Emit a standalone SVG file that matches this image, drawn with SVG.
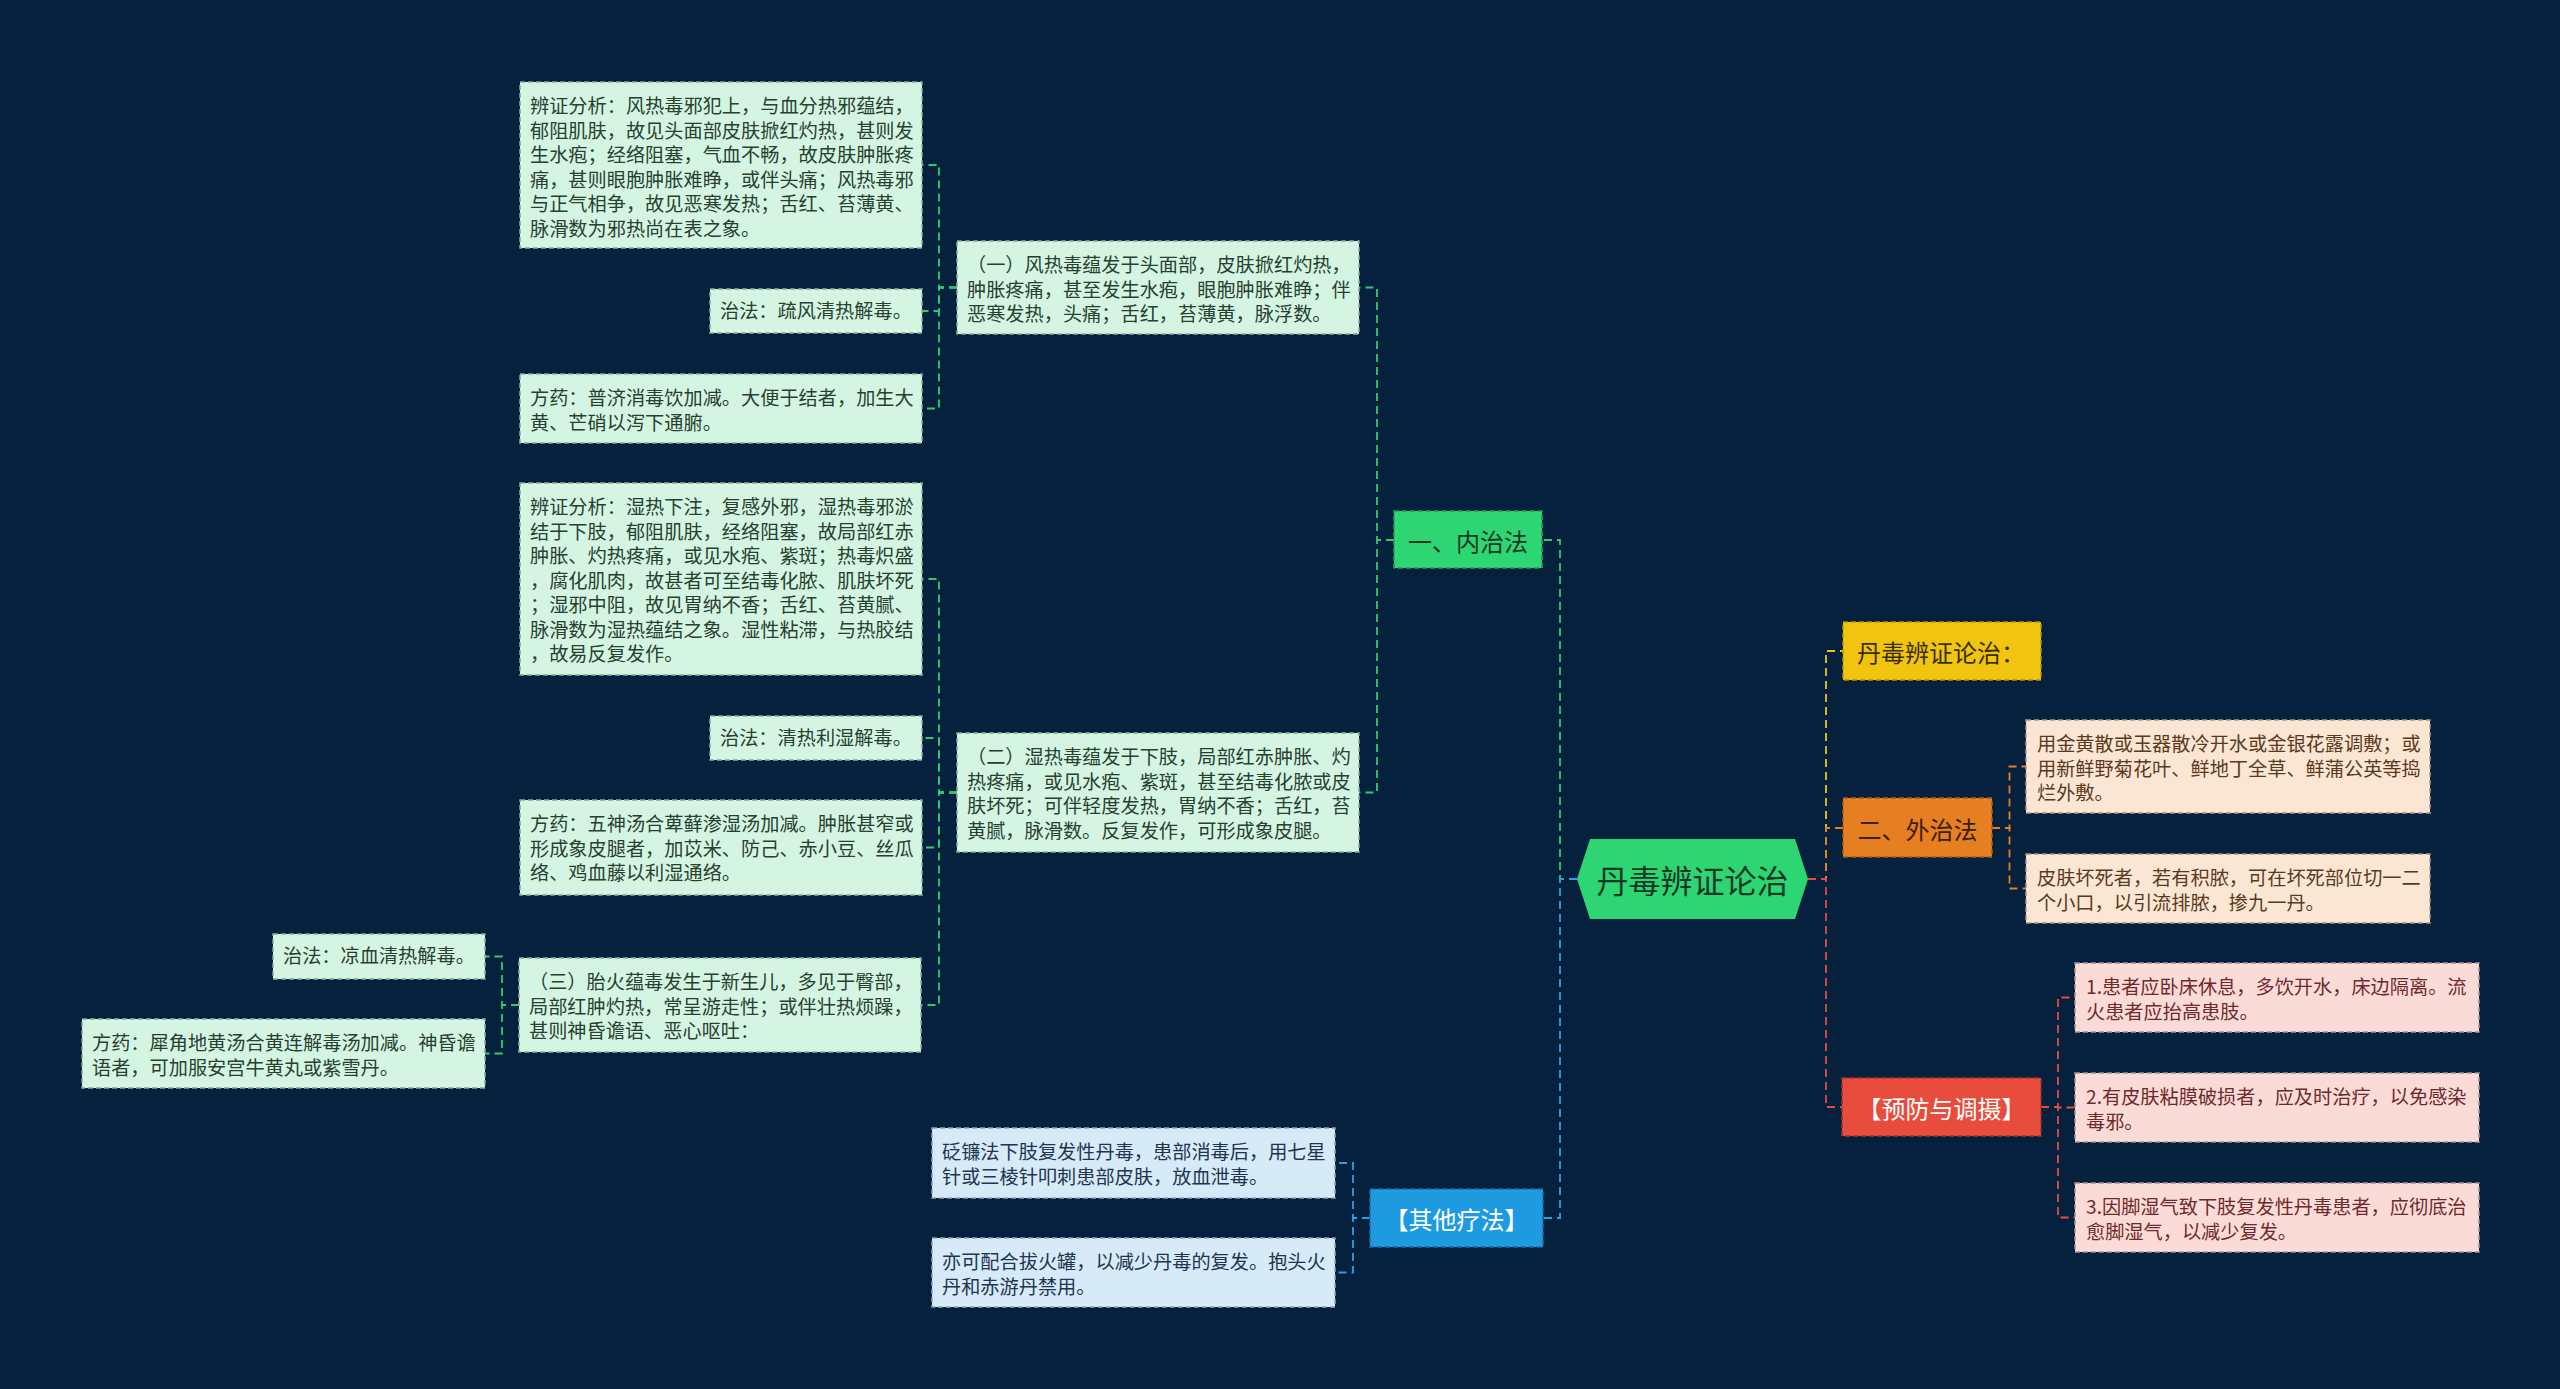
<svg xmlns="http://www.w3.org/2000/svg" width="2560" height="1389" viewBox="0 0 2560 1389">
<style>
text{font-family:"Noto Sans CJK SC","Noto Sans",sans-serif;dominant-baseline:central}
.leaf{font-size:19.2px}
.br{font-size:24px}
.c{fill:none;stroke-width:1.8;stroke-dasharray:8 5}
.lg{fill:#d5f5e3;stroke:#8fa89a;stroke-width:1.5;stroke-dasharray:5 3}
.lo{fill:#fbe5d3;stroke:#a8978a;stroke-width:1.5;stroke-dasharray:5 3}
.lr{fill:#fadbd8;stroke:#a89290;stroke-width:1.5;stroke-dasharray:5 3}
.lb{fill:#d6eaf8;stroke:#8ea2b2;stroke-width:1.5;stroke-dasharray:5 3}
.tg{fill:#27402f}.to{fill:#5a3a1e}.tr{fill:#6e2a2a}.tb{fill:#1f3550}
</style>
<rect x="0" y="0" width="2560" height="1389" fill="#06213d"/>

<g id="connectors">
  <path class="c" stroke="#2ecc71" d="M1577,879 H1560 V540 H1542"/>
  <path class="c" stroke="#2e9fe0" d="M1577,879 H1560 V1218 H1543"/>
  <path class="c" stroke="#f1c40f" d="M1808,879 H1826 V651 H1843"/>
  <path class="c" stroke="#e67e22" d="M1808,879 H1826 V828 H1843"/>
  <path class="c" stroke="#e74c3c" d="M1808,879 H1826 V1107 H1842"/>
  <path class="c" stroke="#2ecc71" d="M1394,540 H1377 V287.5 H1359"/>
  <path class="c" stroke="#2ecc71" d="M1394,540 H1377 V792.5 H1359"/>
  <path class="c" stroke="#2ecc71" d="M957,287.5 H939 V165 H922"/>
  <path class="c" stroke="#2ecc71" d="M957,287.5 H939 V311 H922"/>
  <path class="c" stroke="#2ecc71" d="M957,287.5 H939 V408.5 H922"/>
  <path class="c" stroke="#2ecc71" d="M957,792.5 H939 V579 H922"/>
  <path class="c" stroke="#2ecc71" d="M957,792.5 H939 V738 H922"/>
  <path class="c" stroke="#2ecc71" d="M957,792.5 H939 V847.5 H922"/>
  <path class="c" stroke="#2ecc71" d="M957,792.5 H939 V1005 H921"/>
  <path class="c" stroke="#2ecc71" d="M519,1005 H502 V956.5 H485"/>
  <path class="c" stroke="#2ecc71" d="M519,1005 H502 V1053.5 H485"/>
  <path class="c" stroke="#2e9fe0" d="M1370,1218 H1353 V1163 H1335"/>
  <path class="c" stroke="#2e9fe0" d="M1370,1218 H1353 V1272.5 H1335"/>
  <path class="c" stroke="#e67e22" d="M1992,828 H2009.5 V766.5 H2026"/>
  <path class="c" stroke="#e67e22" d="M1992,828 H2009.5 V888.5 H2026"/>
  <path class="c" stroke="#e74c3c" d="M2041,1107 H2058 V997.5 H2075"/>
  <path class="c" stroke="#e74c3c" d="M2041,1107 H2058 V1107.5 H2075"/>
  <path class="c" stroke="#e74c3c" d="M2041,1107 H2058 V1217.5 H2075"/>
</g>

<g id="root">
  <polygon points="1577,879 1590,839 1795,839 1808,879 1795,919 1590,919" fill="#2ed573"/>
  <text x="1692.5" y="879" font-size="32" text-anchor="middle" fill="#173824">丹毒辨证论治</text>
</g>

<g id="n-neizhi">
  <rect x="1394" y="511" width="148" height="57" fill="#2ed573" stroke="#1f9e55" stroke-width="1.5" stroke-dasharray="5 3"/>
  <text class="br" x="1468" y="540" text-anchor="middle" fill="#173824">一、内治法</text>
</g>
<g id="n-title">
  <rect x="1843" y="622" width="198" height="58" fill="#f1c40f" stroke="#b79200" stroke-width="1.5" stroke-dasharray="5 3"/>
  <text class="br" x="1857" y="651" fill="#3a2e05">丹毒辨证论治：</text>
</g>
<g id="n-waizhi">
  <rect x="1843" y="798" width="149" height="59" fill="#e67e22" stroke="#a85a12" stroke-width="1.5" stroke-dasharray="5 3"/>
  <text class="br" x="1917.5" y="828" text-anchor="middle" fill="#3a2008">二、外治法</text>
</g>
<g id="n-yufang">
  <rect x="1842" y="1078" width="199" height="58" fill="#e74c3c" stroke="#a83226" stroke-width="1.5" stroke-dasharray="5 3"/>
  <text class="br" x="1941.5" y="1107" text-anchor="middle" fill="#ffffff">【预防与调摄】</text>
</g>
<g id="n-qita">
  <rect x="1370" y="1189" width="173" height="58" fill="#1e9be0" stroke="#136ea3" stroke-width="1.5" stroke-dasharray="5 3"/>
  <text class="br" x="1456.5" y="1218" text-anchor="middle" fill="#ffffff">【其他疗法】</text>
</g>

<g id="n-yi">
  <rect class="lg" x="957" y="241" width="402" height="93"/>
  <text class="leaf tg"><tspan x="967" y="264">（一）风热毒蕴发于头面部，皮肤掀红灼热，</tspan><tspan x="967" y="288.5">肿胀疼痛，甚至发生水疱，眼胞肿胀难睁；伴</tspan><tspan x="967" y="313">恶寒发热，头痛；舌红，苔薄黄，脉浮数。</tspan></text>
</g>
<g id="n-a1">
  <rect class="lg" x="520" y="82" width="402" height="166"/>
  <text class="leaf tg"><tspan x="530" y="105">辨证分析：风热毒邪犯上，与血分热邪蕴结，</tspan><tspan x="530" y="129.5">郁阻肌肤，故见头面部皮肤掀红灼热，甚则发</tspan><tspan x="530" y="154">生水疱；经络阻塞，气血不畅，故皮肤肿胀疼</tspan><tspan x="530" y="178.5">痛，甚则眼胞肿胀难睁，或伴头痛；风热毒邪</tspan><tspan x="530" y="203">与正气相争，故见恶寒发热；舌红、苔薄黄、</tspan><tspan x="530" y="227.5">脉滑数为邪热尚在表之象。</tspan></text>
</g>
<g id="n-a2">
  <rect class="lg" x="710" y="289" width="212" height="44"/>
  <text class="leaf tg" x="720" y="310">治法：疏风清热解毒。</text>
</g>
<g id="n-a3">
  <rect class="lg" x="520" y="374" width="402" height="69"/>
  <text class="leaf tg"><tspan x="530" y="397">方药：普济消毒饮加减。大便于结者，加生大</tspan><tspan x="530" y="421.5">黄、芒硝以泻下通腑。</tspan></text>
</g>

<g id="n-er">
  <rect class="lg" x="957" y="733" width="402" height="119"/>
  <text class="leaf tg"><tspan x="967" y="756">（二）湿热毒蕴发于下肢，局部红赤肿胀、灼</tspan><tspan x="967" y="780.5">热疼痛，或见水疱、紫斑，甚至结毒化脓或皮</tspan><tspan x="967" y="805">肤坏死；可伴轻度发热，胃纳不香；舌红，苔</tspan><tspan x="967" y="829.5">黄腻，脉滑数。反复发作，可形成象皮腿。</tspan></text>
</g>
<g id="n-b1">
  <rect class="lg" x="520" y="483" width="402" height="192"/>
  <text class="leaf tg"><tspan x="530" y="506">辨证分析：湿热下注，复感外邪，湿热毒邪淤</tspan><tspan x="530" y="530.5">结于下肢，郁阻肌肤，经络阻塞，故局部红赤</tspan><tspan x="530" y="555">肿胀、灼热疼痛，或见水疱、紫斑；热毒炽盛</tspan><tspan x="530" y="579.5">，腐化肌肉，故甚者可至结毒化脓、肌肤坏死</tspan><tspan x="530" y="604">；湿邪中阻，故见胃纳不香；舌红、苔黄腻、</tspan><tspan x="530" y="628.5">脉滑数为湿热蕴结之象。湿性粘滞，与热胶结</tspan><tspan x="530" y="653">，故易反复发作。</tspan></text>
</g>
<g id="n-b2">
  <rect class="lg" x="710" y="716" width="212" height="44"/>
  <text class="leaf tg" x="720" y="737">治法：清热利湿解毒。</text>
</g>
<g id="n-b3">
  <rect class="lg" x="520" y="800" width="402" height="95"/>
  <text class="leaf tg"><tspan x="530" y="823">方药：五神汤合萆藓渗湿汤加减。肿胀甚窄或</tspan><tspan x="530" y="847.5">形成象皮腿者，加苡米、防己、赤小豆、丝瓜</tspan><tspan x="530" y="872">络、鸡血藤以利湿通络。</tspan></text>
</g>

<g id="n-san">
  <rect class="lg" x="519" y="958" width="402" height="94"/>
  <text class="leaf tg"><tspan x="529" y="981">（三）胎火蕴毒发生于新生儿，多见于臀部，</tspan><tspan x="529" y="1005.5">局部红肿灼热，常呈游走性；或伴壮热烦躁，</tspan><tspan x="529" y="1030">甚则神昏谵语、恶心呕吐：</tspan></text>
</g>
<g id="n-c1">
  <rect class="lg" x="273" y="934" width="212" height="45"/>
  <text class="leaf tg" x="283" y="955">治法：凉血清热解毒。</text>
</g>
<g id="n-c2">
  <rect class="lg" x="82" y="1019" width="403" height="69"/>
  <text class="leaf tg"><tspan x="92" y="1042">方药：犀角地黄汤合黄连解毒汤加减。神昏谵</tspan><tspan x="92" y="1066.5">语者，可加服安宫牛黄丸或紫雪丹。</tspan></text>
</g>

<g id="n-d1">
  <rect class="lb" x="932" y="1128" width="403" height="70"/>
  <text class="leaf tb"><tspan x="942" y="1151">砭镰法下肢复发性丹毒，患部消毒后，用七星</tspan><tspan x="942" y="1175.5">针或三棱针叩刺患部皮肤，放血泄毒。</tspan></text>
</g>
<g id="n-d2">
  <rect class="lb" x="932" y="1238" width="403" height="69"/>
  <text class="leaf tb"><tspan x="942" y="1261">亦可配合拔火罐，以减少丹毒的复发。抱头火</tspan><tspan x="942" y="1285.5">丹和赤游丹禁用。</tspan></text>
</g>

<g id="n-e1">
  <rect class="lo" x="2026" y="720" width="404" height="93"/>
  <text class="leaf to"><tspan x="2037" y="743">用金黄散或玉器散冷开水或金银花露调敷；或</tspan><tspan x="2037" y="767.5">用新鲜野菊花叶、鲜地丁全草、鲜蒲公英等捣</tspan><tspan x="2037" y="792">烂外敷。</tspan></text>
</g>
<g id="n-e2">
  <rect class="lo" x="2026" y="854" width="404" height="69"/>
  <text class="leaf to"><tspan x="2037" y="877">皮肤坏死者，若有积脓，可在坏死部位切一二</tspan><tspan x="2037" y="901.5">个小口，以引流排脓，掺九一丹。</tspan></text>
</g>

<g id="n-f1">
  <rect class="lr" x="2075" y="963" width="404" height="69"/>
  <text class="leaf tr"><tspan x="2086" y="986">1.患者应卧床休息，多饮开水，床边隔离。流</tspan><tspan x="2086" y="1010.5">火患者应抬高患肢。</tspan></text>
</g>
<g id="n-f2">
  <rect class="lr" x="2075" y="1073" width="404" height="69"/>
  <text class="leaf tr"><tspan x="2086" y="1096">2.有皮肤粘膜破损者，应及时治疗，以免感染</tspan><tspan x="2086" y="1120.5">毒邪。</tspan></text>
</g>
<g id="n-f3">
  <rect class="lr" x="2075" y="1183" width="404" height="69"/>
  <text class="leaf tr"><tspan x="2086" y="1206">3.因脚湿气致下肢复发性丹毒患者，应彻底治</tspan><tspan x="2086" y="1230.5">愈脚湿气，以减少复发。</tspan></text>
</g>
</svg>
